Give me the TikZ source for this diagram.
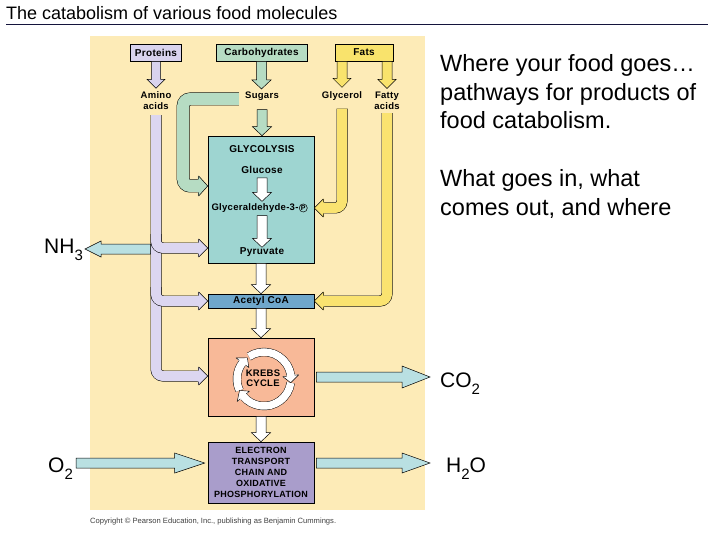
\documentclass[tikz,border=0pt]{standalone}
\usepackage{fontspec}
\setmainfont{Liberation Sans}
\newfontfamily\lblfam[LetterSpace=3]{Liberation Sans}
\usetikzlibrary{calc}
\definecolor{bg}{HTML}{FDEBB7}
\definecolor{titleline}{HTML}{14143C}
\definecolor{copyc}{HTML}{404040}
\definecolor{lavbox}{HTML}{D9D3EE}
\definecolor{lavb}{HTML}{DCD6F0}
\definecolor{grn}{HTML}{B6DCC3}
\definecolor{yel}{HTML}{F9E36C}
\definecolor{yelb}{HTML}{FAE370}
\definecolor{glyc}{HTML}{9ED5D1}
\definecolor{acoac}{HTML}{6FA7CB}
\definecolor{kreb}{HTML}{F8B998}
\definecolor{etcc}{HTML}{A99DCB}
\definecolor{teal}{HTML}{B9E0E2}
\newcommand{\lbl}[1]{\lblfam\bfseries\fontsize{#1}{11}\selectfont}
\newcommand{\chemsub}[1]{\raisebox{-7pt}{\fontsize{15}{15}\selectfont #1}}
% down block arrow: fill, from, to, shaft hw, head hw
\newcommand{\dnarrow}[5]{%
 \filldraw[fill=#1,draw=black,line width=.5pt] let \p1=#2, \p2=#3 in
 (\x1-#4,\y1) -- (\x1-#4,\y2+9pt) -- (\x1-#5,\y2+9pt) -- (\x1,\y2) -- (\x1+#5,\y2+9pt) -- (\x1+#4,\y2+9pt) -- (\x1+#4,\y1) -- cycle;}
% right block arrow: fill, from, to, shaft hw, head hw, head length
\newcommand{\rtarrow}[6]{%
 \filldraw[fill=#1,draw=black,line width=.5pt] let \p1=#2, \p2=#3 in
 (\x1,\y1+#4) -- (\x2-#6,\y1+#4) -- (\x2-#6,\y1+#5) -- (\x2,\y1) -- (\x2-#6,\y1-#5) -- (\x2-#6,\y1-#4) -- (\x1,\y1-#4) -- cycle;}
% left block arrow
\newcommand{\ltarrow}[6]{%
 \filldraw[fill=#1,draw=black,line width=.5pt] let \p1=#2, \p2=#3 in
 (\x1,\y1+#4) -- (\x2+#6,\y1+#4) -- (\x2+#6,\y1+#5) -- (\x2,\y1) -- (\x2+#6,\y1-#5) -- (\x2+#6,\y1-#4) -- (\x1,\y1-#4) -- cycle;}
% head of a band: fill, tip, rotation, band outer hw, head hw
\newcommand{\bhead}[5]{%
 \begin{scope}[shift={#2},rotate=#3]
 \fill[#1] (0pt,0pt) -- (-9pt,#5) -- (-9.8pt,#5) -- (-9.8pt,-#5) -- (-9pt,-#5) -- cycle;
 \draw[line width=.5pt,line join=round] (-9pt,#4) -- (-9pt,#5) -- (0pt,0pt) -- (-9pt,-#5) -- (-9pt,-#4);
 \end{scope}}
% krebs ring
\newcommand{\karc}[2]{%
 \draw[line width=.45pt, double=white, double distance=7.5pt] ($(kc)+(#1:27pt)$) arc[start angle=#1, end angle=#2+15, radius=27pt];}
\newcommand{\khead}[1]{%
 \fill[white] ($(kc)+(#1+16.5:23pt)$) -- ($(kc)+(#1+15:19pt)$) -- ($(kc)+(#1:27pt)$) -- ($(kc)+(#1+15:35pt)$) -- ($(kc)+(#1+16.5:31pt)$) -- cycle;
 \draw[line width=.45pt, line join=round] ($(kc)+(#1+15:30.9pt)$) -- ($(kc)+(#1+15:35pt)$) -- ($(kc)+(#1:27pt)$) -- ($(kc)+(#1+15:19pt)$) -- ($(kc)+(#1+15:23.1pt)$);}
\begin{document}
\begin{tikzpicture}[x=1pt,y=-1pt,
  lab/.style={inner sep=0pt, align=center, font=\lbl{9.5}},
  box/.style={draw=black, line width=.6pt, inner sep=0pt, align=center, font=\lbl{10}},
  band/.style={line width=.5pt, draw=black, rounded corners=7pt},
  big/.style={inner sep=0pt, anchor=base west, font=\fontsize{21}{24}\selectfont},
  side/.style={inner sep=0pt, anchor=base west, font=\fontsize{23.5}{28}\selectfont}]
\useasboundingbox (0,0) rectangle (720,540);
\fill[white] (0,0) rectangle (720,540);
% title
\node[anchor=base west, inner sep=0pt, font=\fontsize{18}{20}\selectfont] (title) at (6,20) {The catabolism of various food molecules};
\draw[line width=1.8pt, titleline] (6,24.5) -- (708,24.5);
% panel
\fill[bg] (90,36) rectangle (425,510);
\node[anchor=base west, inner sep=0pt, font=\fontsize{7.6}{9}\selectfont, text=copyc] (copy) at (90,523) {Copyright \copyright\ Pearson Education, Inc., publishing as Benjamin Cummings.};
% side text
\node[side] (s1) at (440,72) {Where your food goes…};
\node[side] (s2) at (440,100.5) {pathways for products of};
\node[side] (s3) at (440,129) {food catabolism.};
\node[side] (s4) at (440,187) {What goes in, what};
\node[side] (s5) at (440,215.5) {comes out, and where};
% top boxes
\node[box, fill=lavbox, minimum width=51pt, minimum height=17pt] (prot) at (156,52.5) {Proteins};
\node[box, fill=grn, minimum width=91pt, minimum height=17pt] (carb) at (261.5,52.5) {Carbohydrates};
\node[box, fill=yel, minimum width=58pt, minimum height=17pt] (fats) at (364,52.5) {Fats};
\node[lab] (amino) at (156,101) {Amino\\acids};
\node[lab] (sugars) at (262,96) {Sugars};
\node[lab] (glycerol) at (342,96) {Glycerol};
\node[lab] (fatty) at (387,101) {Fatty\\acids};
% central boxes
\node[box, fill=glyc, minimum width=106pt, minimum height=127pt] (gly) at (261,199.5) {};
\node[lab, font=\lbl{10}] (glyt) at (262,149) {GLYCOLYSIS};
\node[lab, font=\lbl{10}] (glu) at (262,170) {Glucose};
\node[lab, font=\lbl{9.5}] (g3p) at (255,208) {Glyceraldehyde-3-};
\node[circle, draw, line width=.5pt, inner sep=.5pt, font=\bfseries\fontsize{7}{7}\selectfont, anchor=west] (pp) at ([xshift=.3pt]g3p.east) {P};
\node[lab, font=\lbl{10}] (pyr) at (262,252) {Pyruvate};
\node[box, fill=acoac, minimum width=106pt, minimum height=14pt] (acoa) at (261,301) {Acetyl CoA};
\node[box, fill=kreb, minimum width=106pt, minimum height=78pt] (krebs) at (261,377) {};
\node[box, fill=etcc, minimum width=106pt, minimum height=61pt, font=\lbl{9}] (etc) at (261,472.5) {ELECTRON\\TRANSPORT\\CHAIN AND\\OXIDATIVE\\PHOSPHORYLATION};
% chem labels
\node[big] (nh3) at (44,253) {NH\chemsub{3}};
\node[big] (co2) at (440,387) {CO\chemsub{2}};
\node[big] (o2) at (48,472) {O\chemsub{2}};
\node[big] (h2o) at (446,472) {H\chemsub{2}O};
% krebs cycle ring
\coordinate (kc) at (264,379);
\karc{205}{128}
\karc{124}{-8}
\karc{352}{205}
\khead{128}
\khead{-8}
\khead{205}
\node[lab, font=\lbl{9.5}, align=center] (kt) at (263,378) {KREBS\\[-1.5pt]CYCLE};
% straight block arrows
\dnarrow{lavbox}{(prot.south)}{([yshift=3.5pt]amino.north)}{4.5pt}{9pt}
\dnarrow{grn}{(carb.south)}{([yshift=2.5pt]sugars.north)}{5pt}{9.5pt}
\dnarrow{grn}{([yshift=-9pt]sugars.south)}{(gly.north)}{5pt}{9.5pt}
\dnarrow{yel}{(glycerol |- fats.south)}{([yshift=4pt]glycerol.north)}{5pt}{9pt}
\dnarrow{yel}{(fatty |- fats.south)}{([yshift=3.5pt]fatty.north)}{5pt}{9pt}
\dnarrow{white}{([yshift=-4pt]glu.south)}{([yshift=2pt]g3p.north)}{5pt}{9.5pt}
\dnarrow{white}{([yshift=-3pt]g3p.south -| glu)}{(pyr.north)}{5pt}{9.5pt}
\dnarrow{white}{(gly.south)}{(acoa.north)}{5pt}{9.5pt}
\dnarrow{white}{(acoa.south)}{(krebs.north)}{5pt}{9.5pt}
\dnarrow{white}{(krebs.south)}{(etc.north)}{5pt}{9.5pt}
% lavender amino acid bands
\coordinate (kin) at (krebs.west |- 0,376);
\coordinate (b1) at (gly.west |- 0,248);
\draw[band, double=lavb, double distance=10pt] ([yshift=-5pt]amino.south) |- ([xshift=-9pt]kin);
\draw[band, double=lavb, double distance=10pt] (amino |- 0,234) |- ([xshift=-9pt]b1);
\draw[band, double=lavb, double distance=10pt] (amino |- 0,287) |- ([xshift=-9pt]acoa.west);
\bhead{lavb}{(kin)}{0}{5.5pt}{9pt}
\bhead{lavb}{(b1)}{0}{5.5pt}{9pt}
\bhead{lavb}{(acoa.west)}{0}{5.5pt}{9pt}
% NH3 out
\coordinate (nhs) at ($(amino |- b1)+(-5.5,1)$);
\coordinate (nhtip) at (85,249);
\ltarrow{teal}{(nhs)}{(nhtip)}{5pt}{8pt}{16pt}
% green sugar band
\coordinate (gin) at (gly.west |- 0,186);
\draw[band, double=grn, double distance=12pt] ([xshift=-6pt,yshift=-3pt]sugars.west) -| ($(gin)+(-24.5,0)$) -- ([xshift=-9pt]gin);
\bhead{grn}{(gin)}{0}{6.5pt}{10pt}
% yellow bands
\coordinate (yg) at (gly.east |- g3p);
\draw[band, double=yelb, double distance=10pt] ([yshift=-8pt]glycerol.south) |- ([xshift=9pt]yg);
\bhead{yelb}{(yg)}{180}{5.5pt}{9pt}
\draw[band, double=yelb, double distance=10pt] ([yshift=-3pt]fatty.south) |- ([xshift=9pt]acoa.east);
\bhead{yelb}{(acoa.east)}{180}{5.5pt}{9pt}
% teal in/out arrows
\rtarrow{teal}{([xshift=2pt]krebs.east)}{([xshift=-10pt]co2.west)}{5pt}{11pt}{28pt}
\rtarrow{teal}{($(o2.east |- 0,463)+(3,0)$)}{($(etc.west |- 0,463)+(-3,0)$)}{5pt}{10pt}{30pt}
\rtarrow{teal}{($(etc.east |- 0,463)+(2,0)$)}{($(h2o.west)+(-16,0)$)}{5pt}{10pt}{28pt}
\end{tikzpicture}
\end{document}
